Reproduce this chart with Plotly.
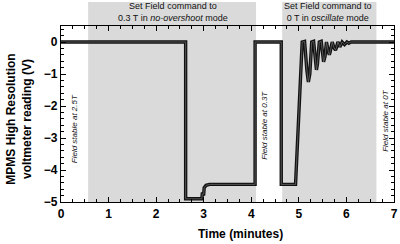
import plotly.graph_objects as go

# Data
time_min = [0, 2.62, 2.62, 2.96, 2.97, 3.0, 3.01, 3.05, 3.12, 4.08, 4.08, 4.63, 4.63, 4.93,
            5.07, 5.12, 5.17, 5.2, 5.23, 5.27, 5.31, 5.35, 5.37, 5.39, 5.43, 5.47, 5.5, 5.52,
            5.55, 5.58, 5.62, 5.64, 5.66, 5.7, 5.74, 5.77, 5.79, 5.82, 5.85, 5.86, 5.88,
            5.91, 5.94, 5.96, 5.98, 6.01, 6.04, 6.05, 6.07, 6.1, 7.0]
voltage = [0, 0, -4.9, -4.9, -4.75, -4.75, -4.55, -4.48, -4.45, -4.45, 0, 0, -4.45, -4.45,
           0, 0.02, -0.9, -1.25, -1.0, 0, 0.02, -0.7, -0.87, -0.7, 0, 0.02, -0.5, -0.62,
           -0.45, 0, -0.3, -0.4, -0.3, 0, -0.18, -0.25, -0.18, 0, -0.1, -0.15, -0.1,
           0, -0.05, -0.08, -0.05, 0, -0.03, -0.04, -0.02, 0, 0]

shade_regions = [(0.57, 4.1), (4.65, 6.63)]
shade_labels = ["Set Field command to<br>0.3 T in <i>no-overshoot</i> mode",
                "Set Field command to<br>0 T in <i>oscillate</i> mode"]
shade_label_x = [2.35, 5.62]
stable_labels = ["Field stable at 2.5T", "Field stable at 0.3T", "Field stable at 0T"]
stable_x = [0.29, 4.28, 6.82]
stable_y = [-2.7, -2.6, -2.45]

fig = go.Figure()
fig.add_trace(go.Scatter(x=time_min, y=voltage, mode="lines",
                         line=dict(color="#111111", width=3.4), hoverinfo="skip"))
fig.add_trace(go.Scatter(x=time_min, y=voltage, mode="lines",
                         line=dict(color="#666666", width=0.8), hoverinfo="skip"))

shapes = []
for x0, x1 in shade_regions:
    shapes.append(dict(type="rect", xref="x", yref="paper", x0=x0, x1=x1, y0=0, y1=1.137,
                       fillcolor="#dadada", line=dict(width=0), layer="below"))

annotations = []
for lab, xx in zip(shade_labels, shade_label_x):
    annotations.append(dict(x=xx, y=1.005, xref="x", yref="paper", text=lab, showarrow=False,
                            xanchor="center", yanchor="bottom",
                            font=dict(family="Liberation Sans, Arial", size=9, color="#111")))
for lab, xx, yy in zip(stable_labels, stable_x, stable_y):
    annotations.append(dict(x=xx, y=yy, xref="x", yref="y", text="<i>" + lab + "</i>",
                            showarrow=False, textangle=-90,
                            font=dict(family="Liberation Sans, Arial", size=8, color="#111")))
annotations.append(dict(x=-0.125, y=0.47, xref="paper", yref="paper",
                        text="<b>MPMS High Resolution<br>voltmeter reading (V)</b>",
                        showarrow=False, textangle=-90, xanchor="center", yanchor="middle",
                        font=dict(family="Liberation Sans, Arial", size=12, color="#000")))
annotations.append(dict(x=0.54, y=-0.13, xref="paper", yref="paper",
                        text="<b>Time (minutes)</b>", showarrow=False,
                        xanchor="center", yanchor="top",
                        font=dict(family="Liberation Sans, Arial", size=12, color="#000")))

axis_common = dict(showgrid=False, zeroline=False, showline=True, linecolor="#000",
                   linewidth=1.2, mirror="ticks", ticks="inside", ticklen=5, tickwidth=1,
                   tickcolor="#000", automargin=False, tickprefix="<b>", ticksuffix="</b>",
                   tickfont=dict(family="Liberation Sans, Arial", size=12, color="#000"))

fig.update_layout(
    width=400, height=244,
    margin=dict(l=61, r=6, t=26, b=42, autoexpand=False),
    paper_bgcolor="white", plot_bgcolor="white",
    showlegend=False,
    shapes=shapes, annotations=annotations,
    xaxis=dict(range=[0, 7], dtick=1, minor=dict(dtick=0.25, ticks="inside", ticklen=3,
                                                 tickcolor="#000"), **axis_common),
    yaxis=dict(range=[-5, 0.5], dtick=1, minor=dict(dtick=0.2, ticks="inside", ticklen=3,
                                                    tickcolor="#000"), **axis_common),
)

fig.write_html("out.html", config={"displayModeBar": False},
               post_script="document.body.style.margin='0';document.body.style.overflow='hidden';")
